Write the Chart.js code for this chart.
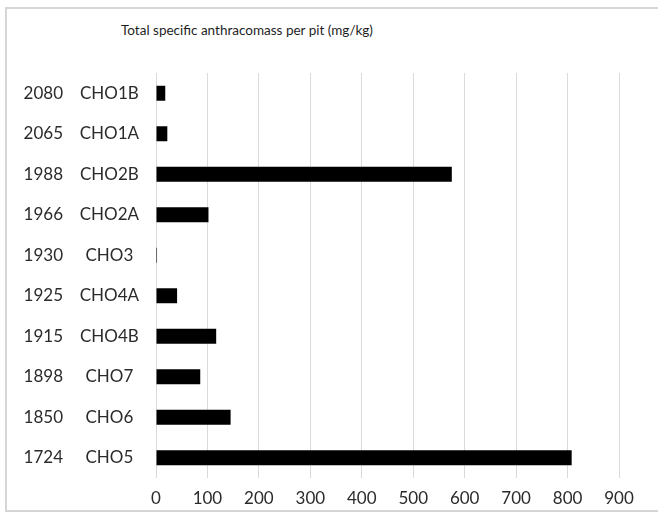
<!DOCTYPE html>
<html>
<head>
<meta charset="utf-8">
<script src="https://cdn.jsdelivr.net/npm/chart.js@4"></script>
<style>
  html, body { margin: 0; padding: 0; background: #fff; overflow: hidden; width: 658px; height: 515px; }
  #frame { position: absolute; left: 5px; top: 7px; width: 900px; height: 505px; border: 2px solid #d6d6d6; box-sizing: border-box; }
  #title { position: absolute; left: 0; top: 22px; width: 494px; text-align: center; font-family: Lato, sans-serif; font-size: 13.5px; color: #1e1e1e; }
  #wrap { position: absolute; left: 0; top: 0; width: 658px; height: 515px; }
</style>
</head>
<body>
<div id="frame"></div>
<div id="title">Total specific anthracomass per pit (mg/kg)</div>
<div id="wrap"><canvas id="myChart" width="658" height="515"></canvas></div>
<script>
// pits from top to bottom
const pits = ['CHO1B', 'CHO1A', 'CHO2B', 'CHO2A', 'CHO3', 'CHO4A', 'CHO4B', 'CHO7', 'CHO6', 'CHO5'];
const elevations = ['2080', '2065', '1988', '1966', '1930', '1925', '1915', '1898', '1850', '1724'];
// mg/kg
const anthracomass = [18, 22, 575, 102, 2, 41, 117, 86, 145, 808];
const xTicks = [0, 100, 200, 300, 400, 500, 600, 700, 800, 900];

const tickFont = { family: 'Lato, sans-serif', size: 17 };

const ctx = document.getElementById('myChart').getContext('2d');
const chart = new Chart(ctx, {
    type: 'bar',
    data: {
        labels: pits,
        datasets: [{
            data: anthracomass,
            backgroundColor: '#000',
            barPercentage: 0.37,
            categoryPercentage: 1
        }]
    },
    options: {
        indexAxis: 'y',
        responsive: false,
        animation: false,
        layout: { padding: { top: 73, right: 39, left: 0, bottom: 0 } },
        plugins: {
            legend: { display: false },
            tooltip: { enabled: false }
        },
        scales: {
            x: {
                min: 0,
                max: 900,
                afterBuildTicks: (scale) => { scale.ticks = xTicks.map(v => ({ value: v })) },
                grid: { color: '#dadada', drawTicks: false },
                border: { display: false },
                ticks: { font: tickFont, color: '#2b2b2b', padding: 10 },
                afterFit: (scale) => { scale.height = 37 }
            },
            y: {
                type: 'category',
                position: 'left',
                weight: 0,
                grid: { display: false, drawTicks: false },
                border: { display: false },
                ticks: { font: tickFont, color: '#2b2b2b', padding: 17, crossAlign: 'center', autoSkip: false },
                afterFit: (scale) => { scale.width = 76 }
            },
            y2: {
                type: 'category',
                labels: elevations,
                position: 'left',
                weight: 1,
                offset: true,
                grid: { display: false, drawTicks: false },
                border: { display: false },
                ticks: { font: tickFont, color: '#2b2b2b', padding: 17, autoSkip: false },
                afterFit: (scale) => { scale.width = 80 }
            }
        }
    }
});
</script>
</body>
</html>
